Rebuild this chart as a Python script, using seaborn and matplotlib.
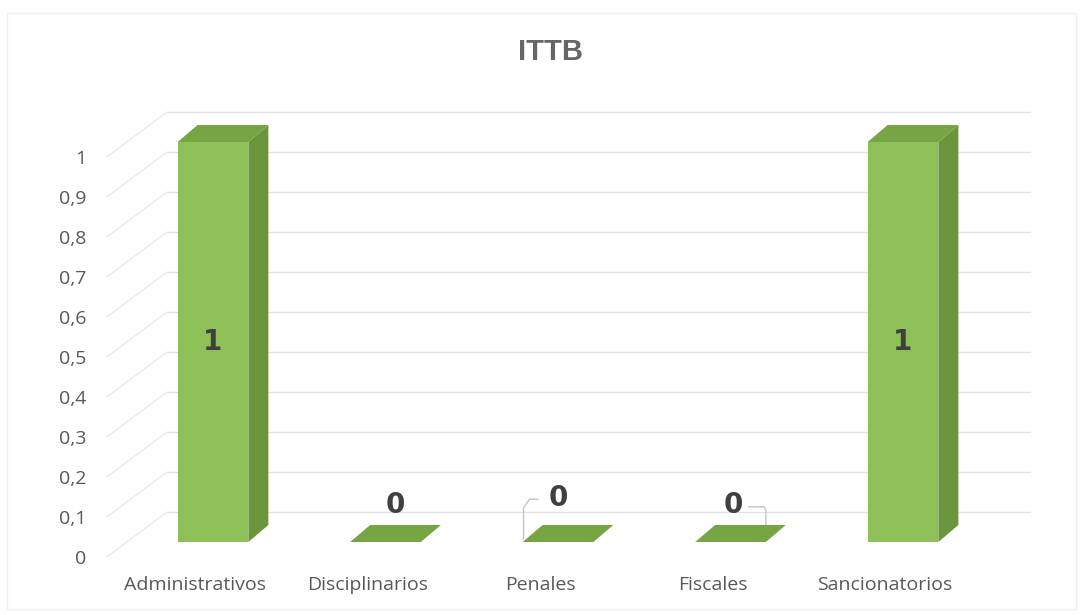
import numpy as np
import pandas as pd
import matplotlib
matplotlib.use('Agg')
import matplotlib.pyplot as plt
import matplotlib.transforms as mtransforms
from matplotlib.patches import Polygon, Rectangle
import seaborn as sns

# ── Data ──────────────────────────────────────────────────────────────────────
title = 'ITTB'
categories = ['Administrativos', 'Disciplinarios', 'Penales', 'Fiscales', 'Sancionatorios']
values = [1, 0, 0, 0, 1]
y_ticks = [0, 0.1, 0.2, 0.3, 0.4, 0.5, 0.6, 0.7, 0.8, 0.9, 1]
y_tick_labels = ['0', '0,1', '0,2', '0,3', '0,4', '0,5', '0,6', '0,7', '0,8', '0,9', '1']

# ── Style ─────────────────────────────────────────────────────────────────────
FRONT = '#8DC056'
SIDE = '#6A953B'
TOP = '#77A543'
TEXT = '#595959'
LABEL = '#404040'
GRID = '#e3e3e3'

BAR_W = 0.41            # bar width in category units
DX, DY = 0.116, 0.0425  # bar depth (data units)
BACK_DY = 0.075         # back wall sits higher than the bar plane
FRONT_DY = -0.0375      # front plane (tick labels) sits lower

sns.set_theme(style='white')
plt.rcParams['font.family'] = ['Open Sans', 'DejaVu Sans']

fig = plt.figure(figsize=(10.83, 6.15), dpi=100)
ax = fig.add_axes([126.75 / 1083, 73 / 615, 862.5 / 1083, 440 / 615])

df = pd.DataFrame({'cat': categories, 'val': values})
sns.barplot(data=df, x='cat', y='val', color=FRONT, width=BAR_W,
            saturation=1, ax=ax, zorder=4, linewidth=0)
ax.set_xlim(-0.5, 4.5)
ax.set_ylim(0, 1.1)

# back wall gridlines + left side wall diagonals
x_back_l, x_back_r = -0.266, 4.736
x_front_l = -0.615
for v in y_ticks:
    ax.plot([x_back_l, x_back_r], [v + BACK_DY, v + BACK_DY], color=GRID,
            lw=1, zorder=1, clip_on=False)
    ax.plot([x_front_l, x_back_l], [v + FRONT_DY, v + BACK_DY],
            color='#ececec', lw=1, zorder=1, clip_on=False)

# 3D faces from each bar
for patch, val in zip(ax.patches, values):
    x0 = patch.get_x()
    x1 = x0 + patch.get_width()
    h = patch.get_height()
    if h > 0:
        side = Polygon([(x1, 0), (x1 + DX, DY), (x1 + DX, h + DY), (x1, h)],
                       closed=True, facecolor=SIDE, edgecolor='none', zorder=4)
        ax.add_patch(side)
    top = Polygon([(x0, h), (x1, h), (x1 + DX, h + DY), (x0 + DX, h + DY)],
                  closed=True, facecolor=TOP, edgecolor='none', zorder=5)
    ax.add_patch(top)

# data labels
label_pos = {0: (0.0, 0.5), 1: (0.055, 0.0925), 2: (0.0, 0.11), 3: (0.014, 0.0925), 4: (0.0, 0.5)}
for i, val in enumerate(values):
    dx, y = label_pos[i]
    ax.text(i + dx, y, f'{val}', ha='center', va='center', fontsize=20,
            fontweight='bold', color=LABEL, family='DejaVu Sans', zorder=6)

# leader lines for moved zero labels
p = ax.patches[2]
x0 = p.get_x()
ax.plot([x0 + 0.005, x0 + 0.005, x0 + 0.04, x0 + 0.09], [0.008, 0.085, 0.107, 0.107],
        color='#c4c4c4', lw=1, zorder=3, clip_on=False)
p = ax.patches[3]
x1 = p.get_x() + p.get_width()
ax.plot([x1 - 0.1, x1 - 0.01, x1, x1], [0.088, 0.088, 0.08, 0.008],
        color='#c4c4c4', lw=1, zorder=3, clip_on=False)

# ticks and labels (front plane)
ax.set_yticks(y_ticks)
ax.set_yticklabels(y_tick_labels)
ax.set_xlabel('')
ax.set_ylabel('')
ax.tick_params(axis='y', length=0, pad=29, labelsize=14, labelcolor=TEXT)
ax.tick_params(axis='x', length=0, pad=14, labelsize=14, labelcolor=TEXT)
off_y = mtransforms.ScaledTranslation(0, -0.15, fig.dpi_scale_trans)
off_x = mtransforms.ScaledTranslation(-0.18, -0.15, fig.dpi_scale_trans)
for lab in ax.get_yticklabels():
    lab.set_transform(lab.get_transform() + off_y)
for lab in ax.get_xticklabels():
    lab.set_transform(lab.get_transform() + off_x)

ax.grid(False)
sns.despine(ax=ax, left=True, bottom=True)
ax.patch.set_alpha(0)

fig.text(551 / 1083, 1 - 52 / 615, title, ha='center', va='center', fontsize=21,
         fontweight='bold', color='#666666', family='Liberation Sans')

fig.patches.append(Rectangle((7 / 1083, 6 / 615), 1069 / 1083, 596 / 615,
                             transform=fig.transFigure, fill=False,
                             edgecolor='#efefef', lw=1))

plt.savefig('out.png', dpi=100)
plt.close()
